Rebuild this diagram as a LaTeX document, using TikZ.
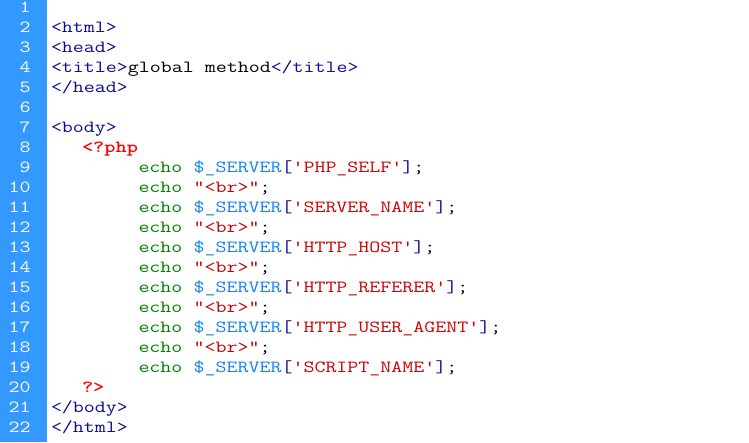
\documentclass[tikz,border=0pt]{standalone}
\usepackage{fontspec}
\usepackage{graphicx}
\definecolor{gutter}{RGB}{51,153,255}
\definecolor{tagc}{RGB}{10,10,150}
\definecolor{strc}{RGB}{205,0,0}
\definecolor{varc}{RGB}{20,130,240}
\definecolor{kwc}{RGB}{0,128,0}
\definecolor{phpc}{RGB}{255,0,0}
\definecolor{brkc}{RGB}{10,10,150}
\newcommand\cTag[1]{\textcolor{tagc}{#1}}
\newcommand\cStr[1]{\textcolor{strc}{#1}}
\newcommand\cVar[1]{\textcolor{varc}{#1}}
\newcommand\cKw[1]{\textcolor{kwc}{#1}}
\newcommand\cPhp[1]{\textcolor{phpc}{\bfseries #1}}
\newcommand\cBrk[1]{\textcolor{brkc}{#1}}
\newcommand\SP{\hspace*{8.925pt}}
\newcommand\wide[1]{\scalebox{1.255}[1]{#1}}
\newcommand\echoSrv[1]{\cKw{echo}\SP\cVar{\$\_SERVER}\cBrk{[}\cStr{'#1'}\cBrk{]};}
\newcommand\echoBr{\cKw{echo}\SP\cStr{"<br>"};}
\begin{document}
\begin{tikzpicture}[x=1pt,y=-1pt,
  code/.style={anchor=base west,inner sep=0pt,outer sep=0pt,
    font=\ttfamily\fontsize{17pt}{20pt}\selectfont\addfontfeature{FakeBold=0.5}},
  lnum/.style={anchor=base east,inner sep=0pt,outer sep=0pt,text=white,
    font=\ttfamily\fontsize{17pt}{20pt}\selectfont}]
\useasboundingbox (0,0) rectangle (749,442);
\fill[white] (0,0) rectangle (749,442);
\fill[gutter] (0,0) rectangle (46.8,442);
\foreach \i in {1,...,22}{
  \node[lnum] (n\i) at (30.5,{12.5+20*(\i-1)}) {\wide{\i}};
}
\node[code] (l2) at (51,32.5) {\wide{\cTag{<html>}}};
\node[code] (l3) at (51,52.5) {\wide{\cTag{<head>}}};
\node[code] (l4) at (51,72.5) {\wide{\cTag{<title>}global method\cTag{</title>}}};
\node[code] (l5) at (51,92.5) {\wide{\cTag{</head>}}};
\node[code] (l7) at (51,132.5) {\wide{\cTag{<body>}}};
\node[code] (l8) at (82,152.5) {\wide{\cPhp{<?php}}};
\node[code] (l9) at (138.5,172.5) {\wide{\echoSrv{PHP\_SELF}}};
\node[code] (l10) at (138.5,192.5) {\wide{\echoBr}};
\node[code] (l11) at (138.5,212.5) {\wide{\echoSrv{SERVER\_NAME}}};
\node[code] (l12) at (138.5,232.5) {\wide{\echoBr}};
\node[code] (l13) at (138.5,252.5) {\wide{\echoSrv{HTTP\_HOST}}};
\node[code] (l14) at (138.5,272.5) {\wide{\echoBr}};
\node[code] (l15) at (138.5,292.5) {\wide{\echoSrv{HTTP\_REFERER}}};
\node[code] (l16) at (138.5,312.5) {\wide{\echoBr}};
\node[code] (l17) at (138.5,332.5) {\wide{\echoSrv{HTTP\_USER\_AGENT}}};
\node[code] (l18) at (138.5,352.5) {\wide{\echoBr}};
\node[code] (l19) at (138.5,372.5) {\wide{\echoSrv{SCRIPT\_NAME}}};
\node[code] (l20) at (82,392.5) {\wide{\cPhp{?>}}};
\node[code] (l21) at (51,412.5) {\wide{\cTag{</body>}}};
\node[code] (l22) at (51,432.5) {\wide{\cTag{</html>}}};
\end{tikzpicture}
\end{document}
